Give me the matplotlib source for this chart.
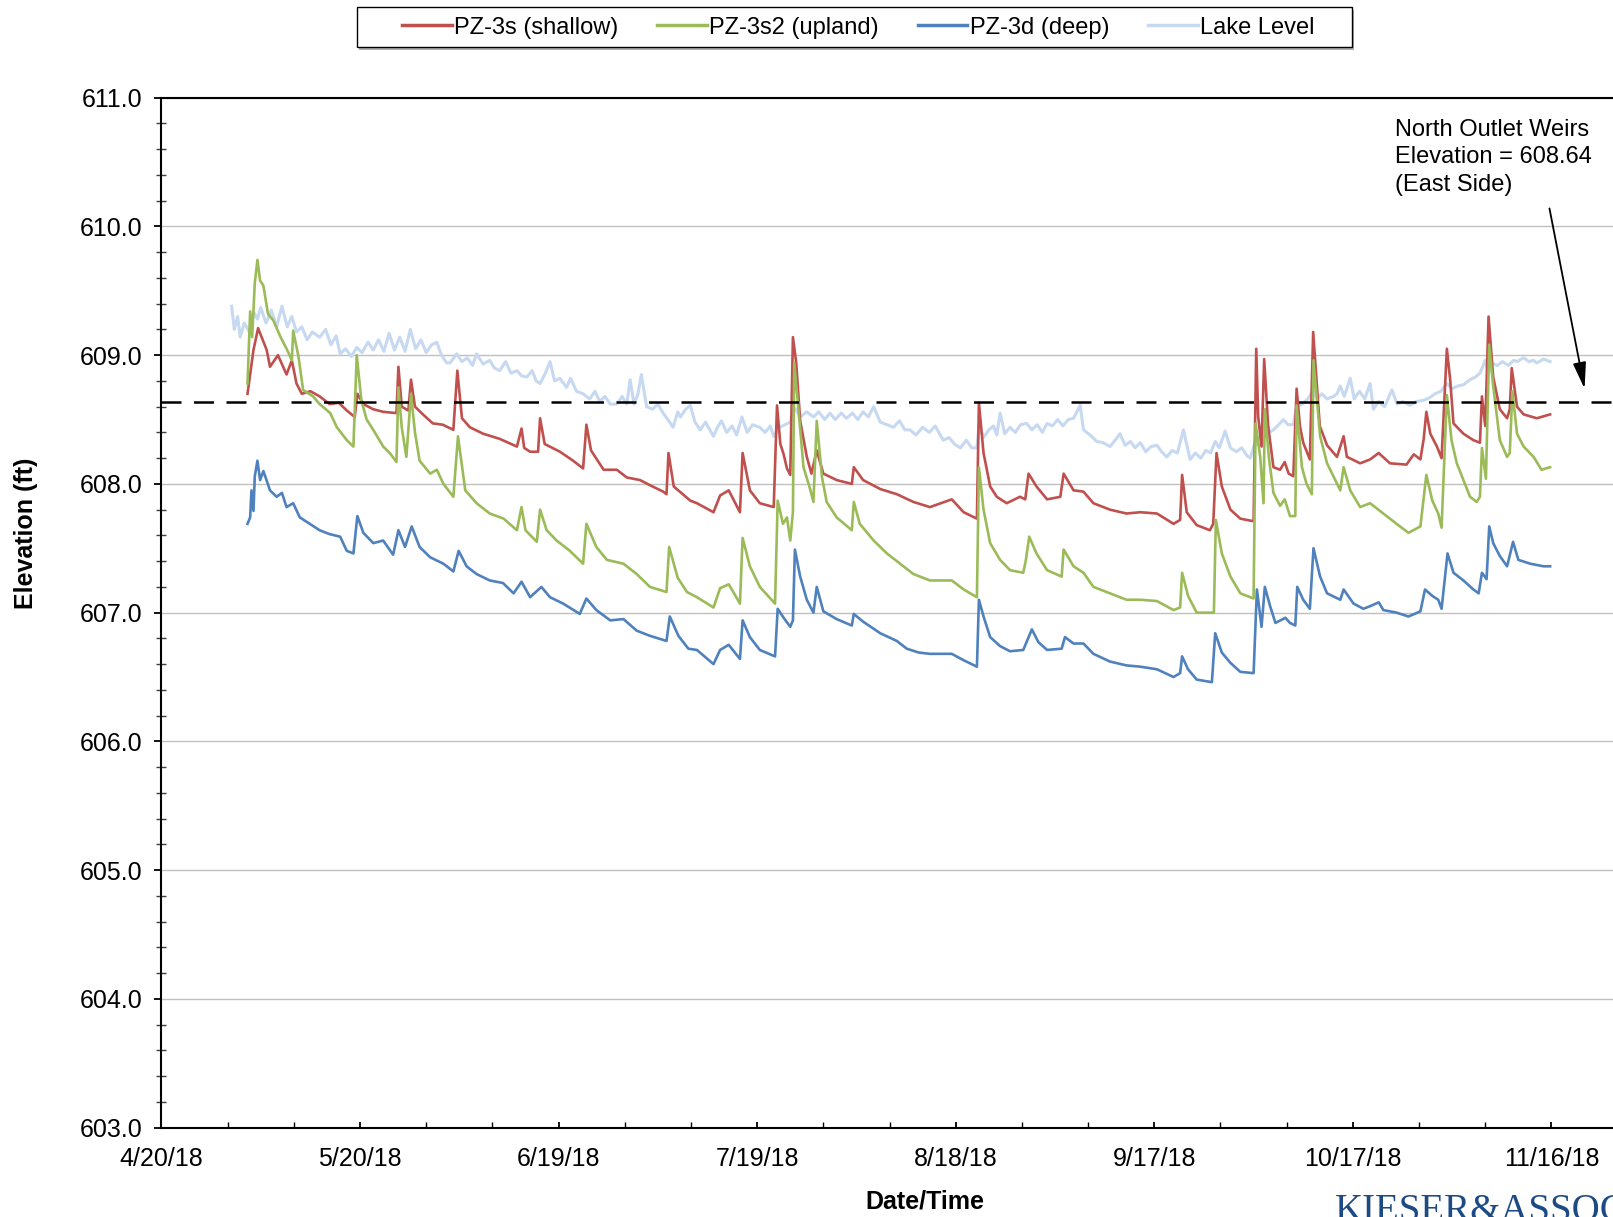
#!/usr/bin/env python

# Piezometer and lake elevations, spring-fall 2018, with the outlet weir level

import datetime

import matplotlib
matplotlib.use('Agg')
import matplotlib.pyplot as plt
import matplotlib.dates as mdates
from matplotlib.patches import Rectangle
from matplotlib.ticker import FuncFormatter, MultipleLocator, FixedLocator

start = datetime.datetime(2018, 4, 20)

# Days since 4/20/18 and elevation (ft) for each record
shallow_day = [13.0, 13.9, 14.6, 15.9, 16.4, 17.6, 18.9, 19.7, 20.4, 21.2, 22.5, 23.9, 25.4, 26.8, 28.0,
               29.2, 29.6, 30.5, 32.0, 33.5, 35.5, 35.8, 36.3, 37.3, 37.7, 38.3, 39.5, 41.0, 42.5, 44.1,
               44.7, 45.4, 46.6, 48.6, 51.1, 53.7, 54.4, 54.8, 55.7, 56.9, 57.2, 57.9, 60.2, 62.2, 63.7,
               64.2, 64.9, 66.8, 68.8, 70.3, 72.3, 73.8, 75.8, 76.3, 76.6, 77.4, 79.9, 80.9, 83.4, 84.4,
               85.7, 86.4, 87.4, 87.8, 88.9, 90.4, 92.5, 93.0, 93.5, 94.0, 94.5, 95.0, 95.4, 95.9, 96.5,
               97.5, 98.2, 99.0, 100.0, 102.0, 104.3, 104.6, 106.0, 108.6, 111.1, 113.6, 116.1, 119.4, 121.2, 123.2,
               123.5, 124.2, 125.2, 126.2, 127.7, 129.7, 130.5, 131.0, 132.2, 133.8, 135.8, 136.3, 137.8, 139.3, 140.8,
               143.3, 145.8, 147.9, 150.4, 152.9, 153.9, 154.2, 154.9, 156.4, 158.4, 158.9, 159.4, 160.2, 161.5, 163.0,
               165.0, 165.4, 165.7, 166.2, 166.6, 167.2, 168.0, 169.0, 169.7, 170.3, 171.0, 171.5, 172.0, 172.5, 173.5,
               174.0, 175.0, 176.1, 177.6, 178.6, 179.1, 181.1, 182.6, 183.9, 185.6, 188.1, 189.2, 190.2, 190.7, 191.1,
               191.7, 192.7, 193.4, 194.2, 194.7, 195.2, 196.7, 198.2, 199.2, 199.5, 200.0, 200.5, 201.2, 202.2, 203.3,
               203.7, 204.0, 204.8, 205.8, 207.8, 209.8]
shallow_ft = [608.70, 609.04, 609.21, 609.04, 608.91, 609.00, 608.85, 608.96, 608.78, 608.70, 608.72, 608.68, 608.62, 608.63, 608.57,
              608.52, 608.70, 608.62, 608.58, 608.56, 608.55, 608.91, 608.60, 608.57, 608.81, 608.60, 608.54, 608.47, 608.46, 608.42,
              608.88, 608.51, 608.44, 608.39, 608.35, 608.29, 608.43, 608.28, 608.25, 608.25, 608.51, 608.31, 608.25, 608.18, 608.12,
              608.46, 608.26, 608.11, 608.11, 608.05, 608.03, 607.99, 607.94, 607.92, 608.24, 607.98, 607.87, 607.85, 607.78, 607.91,
              607.95, 607.88, 607.78, 608.24, 607.95, 607.85, 607.82, 608.61, 608.31, 608.23, 608.12, 608.07, 609.14, 608.94, 608.49,
              608.21, 608.08, 608.26, 608.08, 608.03, 608.00, 608.13, 608.03, 607.96, 607.92, 607.86, 607.82, 607.88, 607.78, 607.73,
              608.63, 608.24, 607.98, 607.90, 607.85, 607.90, 607.88, 608.08, 607.98, 607.88, 607.90, 608.08, 607.95, 607.94, 607.85,
              607.80, 607.77, 607.78, 607.77, 607.69, 607.72, 608.07, 607.78, 607.68, 607.64, 607.69, 608.24, 607.98, 607.80, 607.73,
              607.71, 609.05, 608.52, 608.29, 608.97, 608.45, 608.13, 608.11, 608.17, 608.08, 608.06, 608.74, 608.45, 608.32, 608.19,
              609.18, 608.45, 608.30, 608.21, 608.37, 608.21, 608.16, 608.19, 608.24, 608.16, 608.15, 608.23, 608.19, 608.35, 608.56,
              608.39, 608.29, 608.20, 609.05, 608.81, 608.47, 608.39, 608.34, 608.32, 608.68, 608.45, 609.30, 608.83, 608.58, 608.51,
              608.58, 608.90, 608.60, 608.54, 608.51, 608.54]

upland_day = [13.0, 13.4, 13.7, 14.1, 14.5, 14.9, 15.4, 16.1, 16.9, 18.0, 19.0, 19.7, 19.9, 20.7, 21.4,
              22.9, 23.9, 25.5, 26.5, 28.0, 29.0, 29.5, 30.2, 31.0, 32.0, 33.5, 34.5, 35.5, 35.8, 36.3,
              37.0, 37.7, 38.3, 39.0, 40.6, 41.6, 42.6, 44.1, 44.8, 45.9, 47.6, 49.6, 51.7, 53.7, 54.4,
              55.0, 56.7, 57.2, 58.2, 59.7, 61.7, 63.7, 64.2, 65.7, 67.3, 69.8, 71.8, 73.8, 76.3, 76.7,
              78.0, 79.4, 80.9, 83.4, 84.4, 85.7, 86.4, 87.4, 87.8, 88.9, 90.4, 92.7, 93.1, 93.9, 94.5,
              95.0, 95.4, 95.6, 96.2, 97.0, 98.0, 98.5, 99.0, 99.8, 100.5, 102.0, 104.3, 104.6, 105.5, 107.6,
              109.6, 111.6, 113.6, 116.1, 119.4, 121.2, 123.2, 123.5, 124.2, 125.2, 126.7, 128.2, 130.2, 130.6, 131.1,
              132.2, 133.8, 136.0, 136.3, 137.8, 139.3, 140.8, 143.3, 145.8, 147.9, 150.4, 152.9, 153.9, 154.2, 155.1,
              156.4, 159.0, 159.3, 160.2, 161.5, 163.0, 165.0, 165.3, 166.0, 166.5, 166.7, 167.3, 168.0, 169.0, 169.7,
              170.5, 171.3, 171.5, 172.3, 173.0, 173.8, 174.05, 175.05, 176.1, 178.1, 178.6, 179.6, 181.1, 182.6, 184.6,
              186.6, 188.4, 190.2, 191.1, 192.0, 192.9, 193.4, 194.2, 194.9, 195.7, 196.7, 197.7, 198.7, 199.2, 199.5,
              200.1, 200.6, 201.2, 202.2, 203.3, 203.7, 204.1, 204.8, 205.8, 207.3, 208.5, 209.8]
upland_ft = [608.78, 609.34, 609.14, 609.56, 609.74, 609.58, 609.54, 609.32, 609.27, 609.14, 609.04, 608.96, 609.19, 608.99, 608.73,
             608.68, 608.62, 608.55, 608.44, 608.34, 608.29, 609.00, 608.65, 608.50, 608.42, 608.29, 608.24, 608.17, 608.75, 608.44,
             608.21, 608.70, 608.40, 608.18, 608.08, 608.11, 608.00, 607.90, 608.37, 607.95, 607.85, 607.77, 607.73, 607.64, 607.82,
             607.64, 607.55, 607.80, 607.64, 607.56, 607.48, 607.38, 607.69, 607.51, 607.41, 607.38, 607.30, 607.20, 607.16, 607.51,
             607.27, 607.16, 607.12, 607.04, 607.19, 607.22, 607.16, 607.07, 607.58, 607.36, 607.20, 607.07, 607.87, 607.69, 607.74,
             607.56, 607.78, 608.94, 608.60, 608.13, 607.96, 607.86, 608.49, 608.05, 607.86, 607.74, 607.64, 607.86, 607.69, 607.56,
             607.46, 607.38, 607.30, 607.25, 607.25, 607.18, 607.12, 608.13, 607.80, 607.54, 607.41, 607.33, 607.31, 607.41, 607.59,
             607.46, 607.33, 607.28, 607.49, 607.36, 607.31, 607.20, 607.15, 607.10, 607.10, 607.09, 607.02, 607.04, 607.31, 607.13,
             607.00, 607.00, 607.72, 607.46, 607.28, 607.15, 607.11, 608.47, 608.21, 607.85, 608.58, 608.21, 607.93, 607.83, 607.88,
             607.75, 607.75, 608.61, 608.13, 608.00, 607.92, 608.96, 608.37, 608.16, 607.95, 608.13, 607.95, 607.82, 607.85, 607.77,
             607.69, 607.62, 607.67, 608.07, 607.87, 607.77, 607.66, 608.69, 608.34, 608.16, 608.03, 607.90, 607.86, 607.90, 608.28,
             608.04, 609.08, 608.76, 608.34, 608.21, 608.24, 608.72, 608.39, 608.29, 608.21, 608.11, 608.13]

deep_day = [13.0, 13.4, 13.6, 13.9, 14.1, 14.5, 14.9, 15.4, 16.4, 17.4, 18.2, 18.9, 19.9, 20.9, 22.4,
            23.9, 25.4, 27.0, 28.0, 29.0, 29.6, 30.5, 32.0, 33.5, 35.0, 35.8, 36.8, 37.8, 39.0, 40.6,
            42.6, 44.1, 44.9, 46.1, 47.6, 49.6, 51.6, 53.2, 54.4, 55.7, 57.4, 58.7, 60.7, 63.2, 64.2,
            65.7, 67.8, 69.8, 71.8, 73.8, 76.3, 76.8, 78.1, 79.6, 80.9, 83.4, 84.4, 85.7, 87.4, 87.8,
            88.9, 90.4, 92.7, 93.1, 94.0, 95.0, 95.4, 95.7, 96.5, 97.5, 98.5, 99.0, 100.0, 102.0, 104.3,
            104.6, 106.0, 108.6, 111.1, 112.6, 114.4, 116.1, 119.4, 121.2, 123.2, 123.5, 124.2, 125.2, 126.7, 128.2,
            130.2, 131.5, 132.5, 133.8, 136.0, 136.5, 137.8, 139.3, 140.8, 143.3, 145.8, 147.9, 150.4, 152.9, 153.9,
            154.2, 155.1, 156.4, 158.7, 159.2, 160.2, 161.5, 163.0, 165.0, 165.5, 166.2, 166.7, 167.5, 168.3, 169.8,
            170.5, 171.3, 171.6, 172.5, 173.5, 174.05, 175.05, 176.1, 178.1, 178.6, 180.1, 181.6, 182.6, 183.9, 184.6,
            186.6, 188.4, 190.2, 190.9, 192.0, 192.9, 193.4, 194.3, 195.2, 196.7, 198.2, 199.0, 199.5, 200.2, 200.6,
            201.2, 202.2, 203.3, 204.2, 205.0, 206.8, 208.8, 209.8]
deep_ft = [607.69, 607.74, 607.95, 607.79, 608.06, 608.18, 608.03, 608.10, 607.95, 607.90, 607.93, 607.82, 607.85, 607.74, 607.69,
           607.64, 607.61, 607.59, 607.48, 607.46, 607.75, 607.62, 607.54, 607.56, 607.45, 607.64, 607.51, 607.67, 607.51, 607.43,
           607.38, 607.32, 607.48, 607.36, 607.30, 607.25, 607.23, 607.15, 607.24, 607.12, 607.20, 607.12, 607.07, 606.99, 607.11,
           607.02, 606.94, 606.95, 606.86, 606.82, 606.78, 606.97, 606.82, 606.72, 606.71, 606.60, 606.71, 606.75, 606.64, 606.94,
           606.81, 606.71, 606.66, 607.03, 606.96, 606.89, 606.94, 607.49, 607.28, 607.10, 607.00, 607.20, 607.01, 606.95, 606.90,
           606.99, 606.93, 606.84, 606.78, 606.72, 606.69, 606.68, 606.68, 606.63, 606.58, 607.10, 606.97, 606.81, 606.74, 606.70,
           606.71, 606.87, 606.77, 606.71, 606.72, 606.81, 606.76, 606.76, 606.68, 606.62, 606.59, 606.58, 606.56, 606.50, 606.53,
           606.66, 606.56, 606.48, 606.46, 606.84, 606.69, 606.61, 606.54, 606.53, 607.18, 606.89, 607.20, 607.05, 606.92, 606.96,
           606.92, 606.90, 607.20, 607.10, 607.03, 607.50, 607.28, 607.15, 607.10, 607.18, 607.07, 607.03, 607.05, 607.08, 607.02,
           607.00, 606.97, 607.01, 607.18, 607.13, 607.10, 607.03, 607.46, 607.31, 607.25, 607.18, 607.15, 607.31, 607.26, 607.67,
           607.54, 607.44, 607.36, 607.55, 607.41, 607.38, 607.36, 607.36]

lake_day = [10.6, 11.0, 11.5, 11.9, 12.5, 13.3, 14.0, 14.5, 15.0, 15.8, 16.6, 17.4, 18.2, 19.0, 19.7,
            20.4, 21.2, 22.0, 22.8, 23.9, 24.8, 25.6, 26.4, 27.0, 27.8, 28.7, 29.5, 30.3, 31.2, 32.0,
            32.8, 33.6, 34.4, 35.2, 36.0, 36.8, 37.6, 38.4, 39.2, 40.0, 40.8, 41.6, 42.3, 43.1, 43.6,
            44.6, 45.4, 46.2, 47.0, 47.6, 48.6, 49.6, 50.3, 51.1, 52.0, 52.8, 53.7, 54.4, 55.2, 56.0,
            56.6, 57.2, 58.0, 58.7, 59.4, 60.2, 61.2, 61.8, 62.7, 63.7, 64.7, 65.5, 66.2, 67.0, 67.8,
            68.8, 69.6, 70.3, 70.8, 71.4, 72.0, 72.5, 73.3, 74.2, 75.0, 75.8, 76.5, 77.3, 78.0, 78.4,
            79.2, 79.9, 80.6, 81.4, 82.2, 83.4, 84.0, 84.6, 85.4, 86.2, 86.9, 87.7, 88.5, 89.3, 90.4,
            91.2, 92.0, 92.5, 93.4, 94.2, 95.0, 95.7, 96.5, 97.5, 98.5, 99.3, 100.2, 101.0, 101.8, 102.7,
            103.5, 104.4, 105.2, 106.0, 106.8, 107.6, 108.6, 109.6, 110.6, 111.5, 112.3, 113.1, 114.0, 115.0, 116.0,
            116.9, 118.1, 119.0, 119.8, 120.7, 121.6, 122.4, 123.2, 123.5, 124.2, 125.0, 125.7, 126.2, 126.7, 127.4,
            128.2, 129.0, 129.8, 130.7, 131.5, 132.3, 133.1, 133.8, 134.6, 135.4, 136.2, 137.0, 137.8, 138.8, 139.3,
            140.3, 141.3, 142.3, 143.3, 144.1, 144.8, 145.6, 146.4, 147.1, 147.9, 148.7, 149.5, 150.4, 151.1, 151.9,
            152.7, 153.5, 154.4, 155.4, 156.2, 157.0, 157.8, 158.5, 159.2, 159.8, 160.7, 161.5, 162.4, 163.2, 164.0,
            164.5, 165.2, 165.8, 166.7, 167.3, 168.0, 168.8, 169.5, 170.2, 171.0, 171.5, 172.3, 173.2, 174.0, 174.6,
            175.3, 176.1, 177.1, 177.6, 178.1, 178.7, 179.6, 180.2, 181.0, 181.8, 182.6, 183.1, 183.9, 184.8, 185.9,
            186.7, 187.5, 188.6, 189.6, 190.7, 191.6, 192.4, 193.3, 194.2, 195.0, 195.8, 196.7, 197.7, 198.5, 199.2,
            200.0, 200.5, 201.0, 201.8, 202.6, 203.5, 204.3, 204.8, 205.8, 206.6, 207.3, 207.8, 208.8, 209.8]
lake_ft = [609.38, 609.20, 609.30, 609.14, 609.25, 609.18, 609.33, 609.28, 609.37, 609.25, 609.35, 609.22, 609.38, 609.22, 609.30,
           609.18, 609.22, 609.12, 609.18, 609.14, 609.20, 609.08, 609.15, 609.01, 609.05, 608.99, 609.06, 609.02, 609.10, 609.04,
           609.12, 609.03, 609.17, 609.04, 609.14, 609.03, 609.20, 609.05, 609.12, 609.02, 609.08, 609.10, 609.00, 608.94, 608.94,
           609.01, 608.95, 608.98, 608.92, 609.01, 608.93, 608.96, 608.90, 608.88, 608.95, 608.86, 608.88, 608.84, 608.83, 608.88,
           608.80, 608.78, 608.86, 608.95, 608.80, 608.82, 608.75, 608.82, 608.72, 608.70, 608.66, 608.72, 608.64, 608.68, 608.62,
           608.62, 608.68, 608.62, 608.81, 608.62, 608.70, 608.85, 608.60, 608.58, 608.62, 608.55, 608.50, 608.44, 608.56, 608.52,
           608.58, 608.61, 608.48, 608.42, 608.48, 608.37, 608.44, 608.49, 608.40, 608.45, 608.38, 608.52, 608.40, 608.46, 608.44,
           608.40, 608.45, 608.37, 608.44, 608.46, 608.48, 608.59, 608.52, 608.56, 608.52, 608.56, 608.50, 608.55, 608.50, 608.55,
           608.51, 608.55, 608.50, 608.56, 608.52, 608.60, 608.48, 608.46, 608.44, 608.49, 608.42, 608.42, 608.38, 608.44, 608.40,
           608.45, 608.34, 608.36, 608.31, 608.28, 608.34, 608.28, 608.28, 608.45, 608.36, 608.42, 608.45, 608.38, 608.55, 608.39,
           608.44, 608.40, 608.46, 608.47, 608.42, 608.46, 608.40, 608.47, 608.45, 608.50, 608.45, 608.50, 608.51, 608.61, 608.42,
           608.38, 608.33, 608.32, 608.29, 608.34, 608.39, 608.30, 608.33, 608.28, 608.32, 608.25, 608.29, 608.30, 608.25, 608.21,
           608.26, 608.24, 608.42, 608.19, 608.24, 608.20, 608.26, 608.24, 608.33, 608.28, 608.41, 608.28, 608.25, 608.28, 608.22,
           608.20, 608.32, 608.30, 608.58, 608.40, 608.42, 608.46, 608.50, 608.46, 608.46, 608.60, 608.62, 608.66, 608.73, 608.66,
           608.70, 608.66, 608.68, 608.70, 608.76, 608.68, 608.82, 608.66, 608.72, 608.66, 608.78, 608.58, 608.64, 608.60, 608.73,
           608.62, 608.64, 608.61, 608.64, 608.65, 608.67, 608.70, 608.72, 608.78, 608.74, 608.76, 608.77, 608.81, 608.83, 608.86,
           608.96, 608.86, 608.94, 608.92, 608.95, 608.92, 608.96, 608.95, 608.98, 608.95, 608.96, 608.94, 608.97, 608.95]

weir_elev = 608.64
series_names = ['PZ-3s (shallow)', 'PZ-3s2 (upland)', 'PZ-3d (deep)', 'Lake Level']
series_colors = ['#C0504D', '#9BBB59', '#4F81BD', '#C6D9F1']


def to_dates(days):
    return [start + datetime.timedelta(days=d) for d in days]


font = {'family': 'sans-serif',
        'sans-serif': ['Liberation Sans', 'DejaVu Sans'],
        'size': 18}
matplotlib.rc('font', **font)

fig = plt.figure(figsize=(16.13, 12.17), dpi=100, facecolor='white')
ax = fig.add_axes([0.1001, 0.0735, 0.8999, 0.8462])

# Lake behind, then the three piezometers
l_lake, = ax.plot(to_dates(lake_day), lake_ft, color=series_colors[3], lw=2.2, zorder=3)
l_deep, = ax.plot(to_dates(deep_day), deep_ft, color=series_colors[2], lw=1.9, zorder=4)
l_shal, = ax.plot(to_dates(shallow_day), shallow_ft, color=series_colors[0], lw=1.9, zorder=5)
l_upl, = ax.plot(to_dates(upland_day), upland_ft, color=series_colors[1], lw=1.9, zorder=6)

ax.axhline(weir_elev, color='black', lw=1.8, dashes=(8, 5), zorder=7)

# Axes ranges and ticks
ax.set_xlim(start, start + datetime.timedelta(days=219.3))
ax.set_ylim(603.0, 611.0)
ax.yaxis.set_major_locator(MultipleLocator(1.0))
ax.yaxis.set_minor_locator(MultipleLocator(0.2))
ax.yaxis.set_major_formatter(FuncFormatter(lambda v, p: '%.1f' % v))
major_dates = [start + datetime.timedelta(days=30 * i) for i in range(8)]
minor_dates = [start + datetime.timedelta(days=10 * i) for i in range(23)]
ax.xaxis.set_major_locator(FixedLocator(mdates.date2num(major_dates)))
ax.xaxis.set_minor_locator(FixedLocator(mdates.date2num(minor_dates)))
ax.xaxis.set_major_formatter(FuncFormatter(
    lambda v, p: '%d/%d/%02d' % (mdates.num2date(v).month, mdates.num2date(v).day,
                                 mdates.num2date(v).year % 100)))

ax.tick_params(axis='y', which='major', direction='out', length=5, width=1.3, pad=9)
ax.tick_params(axis='y', which='minor', direction='inout', length=7, width=1.0, color='#404040')
ax.tick_params(axis='x', which='major', direction='in', length=4, width=1.3, pad=14)
ax.tick_params(axis='x', which='minor', direction='in', length=4, width=1.0)

ax.grid(True, which='major', axis='y', color='#C0C0C0', lw=1.0, zorder=0)
for side in ['left', 'bottom', 'top']:
    ax.spines[side].set_linewidth(1.5)
ax.spines['right'].set_visible(False)

fig.text(0.016, 0.562, 'Elevation (ft)', rotation=90, ha='center', va='center',
         fontsize=18, fontweight='bold')
fig.text(0.5733, 0.0127, 'Date/Time', ha='center', va='center',
         fontsize=18, fontweight='bold')

# Weir label and pointer
ax.text(start + datetime.timedelta(days=186.4), 610.835,
        'North Outlet Weirs\nElevation = 608.64\n(East Side)',
        ha='left', va='top', fontsize=17, linespacing=1.32)
ax.annotate('', xy=(start + datetime.timedelta(days=215.0), 608.74),
            xytext=(start + datetime.timedelta(days=209.7), 610.14),
            arrowprops=dict(arrowstyle='-|>,head_length=0.8,head_width=0.2',
                            color='black', lw=1.3, mutation_scale=20, shrinkA=0, shrinkB=0))

# Legend frame with a light drop shadow, entries laid over it
box = (0.2213, 0.9611, 0.6169, 0.03295)
fig.patches.append(Rectangle((box[0] + 0.0015, box[1] - 0.002), box[2], box[3],
                             transform=fig.transFigure, facecolor='#B0B0B0',
                             edgecolor='none', zorder=1))
fig.patches.append(Rectangle((box[0], box[1]), box[2], box[3],
                             transform=fig.transFigure, facecolor='white',
                             edgecolor='black', lw=1.0, zorder=2))
leg = fig.legend([l_shal, l_upl, l_deep, l_lake], series_names,
                 loc='center', bbox_to_anchor=(0.5322, 0.9772), ncol=4,
                 fontsize=17, handlelength=2.1, handletextpad=0.1, columnspacing=1.65,
                 borderpad=0.2, frameon=False)
for h in leg.legend_handles:
    h.set_linewidth(2.5)

fig.text(0.8277, 0.0195, 'KIESER&ASSOCIATES', ha='left', va='top',
         fontsize=28, family='Liberation Serif', color='#1C4A85')

fig.savefig('out.png', dpi=100)
